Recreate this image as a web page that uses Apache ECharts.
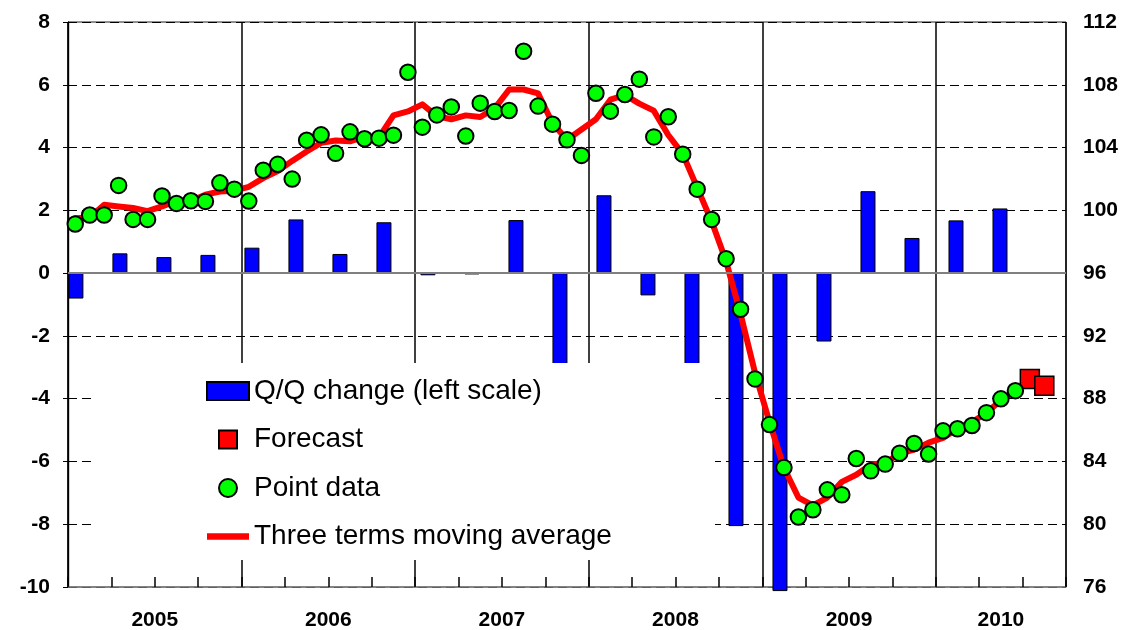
<!DOCTYPE html>
<html><head><meta charset="utf-8">
<script src="https://cdn.jsdelivr.net/npm/echarts@6/dist/echarts.min.js"></script>
<style>html,body{margin:0;padding:0;background:#fff}#c{width:1124px;height:630px}</style>
</head><body><div id="c"></div>
<script>
// ---- data ----
const years = ['2005', '2006', '2007', '2008', '2009', '2010'];
const quarters = ['2005Q1','2005Q2','2005Q3','2005Q4','2006Q1','2006Q2','2006Q3','2006Q4',
  '2007Q1','2007Q2','2007Q3','2007Q4','2008Q1','2008Q2','2008Q3','2008Q4',
  '2009Q1','2009Q2','2009Q3','2009Q4','2010Q1','2010Q2'];
// Q/Q change, left scale (%)
const qqChange = [-0.81, 0.63, 0.51, 0.58, 0.81, 1.71, 0.61, 1.62,
  -0.07, -0.04, 1.69, -3.0, 2.48, -0.71, -4.6, -8.06,
  -10.13, -2.18, 2.61, 1.12, 1.68, 2.06];
// monthly point data, right scale, Jan 2005 .. Jun 2010
const pointData = [99.13, 99.70, 99.70, 101.59, 99.42, 99.42, 100.91, 100.44, 100.61, 100.57, 101.75, 101.35,
  100.59, 102.56, 102.93, 101.99, 104.47, 104.81, 103.63, 105.00, 104.56, 104.60, 104.79, 108.80,
  105.30, 106.08, 106.59, 104.73, 106.83, 106.30, 106.36, 110.14, 106.64, 105.49, 104.49, 103.50,
  107.46, 106.32, 107.38, 108.36, 104.68, 105.96, 103.58, 101.35, 99.42, 96.92, 93.70, 89.26,
  86.35, 83.61, 80.46, 80.92, 82.19, 81.88, 84.19, 83.40, 83.83, 84.53, 85.14, 84.47,
  85.95, 86.08, 86.29, 87.11, 87.99, 88.51];
// three terms moving average, right scale
const movingAvg = [99.5, 99.55, 100.35, 100.25, 100.15, 99.95, 100.25, 100.6, 100.6, 101.0, 101.2, 101.25,
  101.5, 102.05, 102.5, 103.15, 103.75, 104.3, 104.45, 104.4, 104.7, 104.65, 106.05, 106.3,
  106.75, 106.0, 105.8, 106.05, 105.95, 106.5, 107.7, 107.7, 107.45, 105.55, 104.5, 105.15,
  105.8, 107.05, 107.35, 106.8, 106.35, 104.8, 103.6, 101.45, 99.3, 96.75, 93.4, 89.65,
  86.5, 83.6, 81.7, 81.2, 81.7, 82.7, 83.15, 83.8, 83.9, 84.5, 84.75, 85.2,
  85.5, 86.1, 86.5, 87.1, 87.9, 88.5];
// forecast, right scale (Jul, Aug 2010)
const forecast = [89.26, 88.83];
// axis tick values
const leftTicks = {min: -10, max: 8, step: 2};
const rightTicks = {min: 76, max: 112, step: 4};
const axisMonths = 69; // Jan 2005 .. Sep 2010

// ---- build ----
const pointSeries = pointData.map((v, i) => [i + 0.5, v]);
const maSeries = movingAvg.map((v, i) => [i + 0.5, v]);
const fcSeries = forecast.map((v, j) => [pointData.length + j + 0.5, v]);
const barSeries = qqChange.map((v, k) => [k, v]);
const yearCenters = years.map((y, i) => (12 * i + Math.min(12 * i + 12, axisMonths)) / 2);
const yearLabelMap = {};
yearCenters.forEach((c, i) => { yearLabelMap[c] = years[i]; });

const FONT = '"Liberation Sans", Arial, Helvetica, sans-serif';
const axisLabelStyle = {fontFamily: FONT, fontSize: 21, fontWeight: 'bold', color: '#000'};

const chart = echarts.init(document.getElementById('c'), null, {renderer: 'canvas'});
chart.setOption({
  animation: false,
  backgroundColor: '#fff',
  textStyle: {fontFamily: FONT},
  grid: {left: 68, right: 58, top: 22, bottom: 43, show: true, borderColor: '#222', borderWidth: 1,
    containLabel: false, outerBoundsMode: 'none'},
  legend: {
    orient: 'vertical', left: 206, top: 377, padding: 0,
    itemWidth: 42, itemHeight: 18, itemGap: 20.5,
    textStyle: {fontFamily: FONT, fontSize: 28, lineHeight: 28, color: '#000'},
    selectedMode: false,
    data: [
      {name: 'Q/Q change (left scale)', icon: 'rect'},
      {name: 'Forecast', icon: 'path://M0,0L10,0L10,10L0,10Z'},
      {name: 'Point data', icon: 'circle'},
      {name: 'Three terms moving average', icon: 'path://M0,0L42,0L42,6.5L0,6.5Z',
        itemStyle: {color: '#ff0000', borderWidth: 0}}
    ]
  },
  graphic: {elements: [{type: 'rect', z: 3, silent: true,
    shape: {x: 92, y: 363, width: 623, height: 197}, style: {fill: '#fff'}}]},
  xAxis: [
    { // year separators
      type: 'value', min: 0, max: axisMonths, interval: 12, position: 'bottom',
      axisLine: {show: true, onZero: false, lineStyle: {color: '#808080', width: 1.5}},
      axisTick: {show: false}, axisLabel: {show: false},
      splitLine: {show: true, lineStyle: {color: '#000', width: 1.5, type: 'solid'}}
    },
    { // quarter ticks + year labels
      type: 'value', min: 0, max: axisMonths, interval: 3, position: 'bottom',
      axisLine: {show: false, onZero: false},
      axisTick: {show: true, inside: true, length: 10, lineStyle: {color: '#000', width: 1.5}},
      axisLabel: Object.assign({show: true, margin: 23, customValues: yearCenters,
        formatter: v => yearLabelMap[v] || ''}, axisLabelStyle),
      splitLine: {show: false}
    },
    { // quarterly bars
      type: 'value', min: -0.18, max: 22.5, show: false, position: 'bottom',
      axisLine: {onZero: false}
    }
  ],
  yAxis: [
    {
      type: 'value', position: 'left', min: leftTicks.min, max: leftTicks.max, interval: leftTicks.step,
      axisLine: {show: true, lineStyle: {color: '#000', width: 1.2}},
      axisTick: {show: false},
      axisLabel: Object.assign({margin: 18}, axisLabelStyle),
      splitLine: {show: true, lineStyle: {color: '#000', width: 1, type: [9, 5]}}
    },
    {
      type: 'value', position: 'right', min: rightTicks.min, max: rightTicks.max, interval: rightTicks.step,
      axisLine: {show: true, lineStyle: {color: '#000', width: 1.2}},
      axisTick: {show: true, inside: true, length: 5, lineStyle: {color: '#000'}},
      axisLabel: Object.assign({margin: 17}, axisLabelStyle),
      splitLine: {show: false}
    }
  ],
  series: [
    {
      name: 'Q/Q change (left scale)', type: 'bar', xAxisIndex: 2, yAxisIndex: 0,
      data: barSeries, barWidth: 15, clip: false, z: 2,
      itemStyle: {color: '#0000ff', borderColor: '#000', borderWidth: 1},
      markLine: {silent: true, symbol: 'none', label: {show: false}, animation: false,
        lineStyle: {color: '#808080', width: 2, type: 'solid'}, data: [{yAxis: 0}]}
    },
    {
      name: 'Three terms moving average', type: 'line', xAxisIndex: 0, yAxisIndex: 1,
      data: maSeries, symbol: 'none', showSymbol: false, z: 3,
      itemStyle: {color: '#ff0000'},
      lineStyle: {color: '#ff0000', width: 6, cap: 'round', join: 'round'}
    },
    {
      name: 'Forecast', type: 'scatter', xAxisIndex: 0, yAxisIndex: 1,
      data: fcSeries, symbol: 'rect', symbolSize: 19, z: 4,
      itemStyle: {color: '#ff0000', borderColor: '#000', borderWidth: 1.5, opacity: 1}
    },
    {
      name: 'Point data', type: 'scatter', xAxisIndex: 0, yAxisIndex: 1,
      data: pointSeries, symbol: 'circle', symbolSize: 15.5, z: 5,
      itemStyle: {color: '#00ff00', borderColor: '#000', borderWidth: 2, opacity: 1}
    }
  ]
});
</script>
</body></html>
